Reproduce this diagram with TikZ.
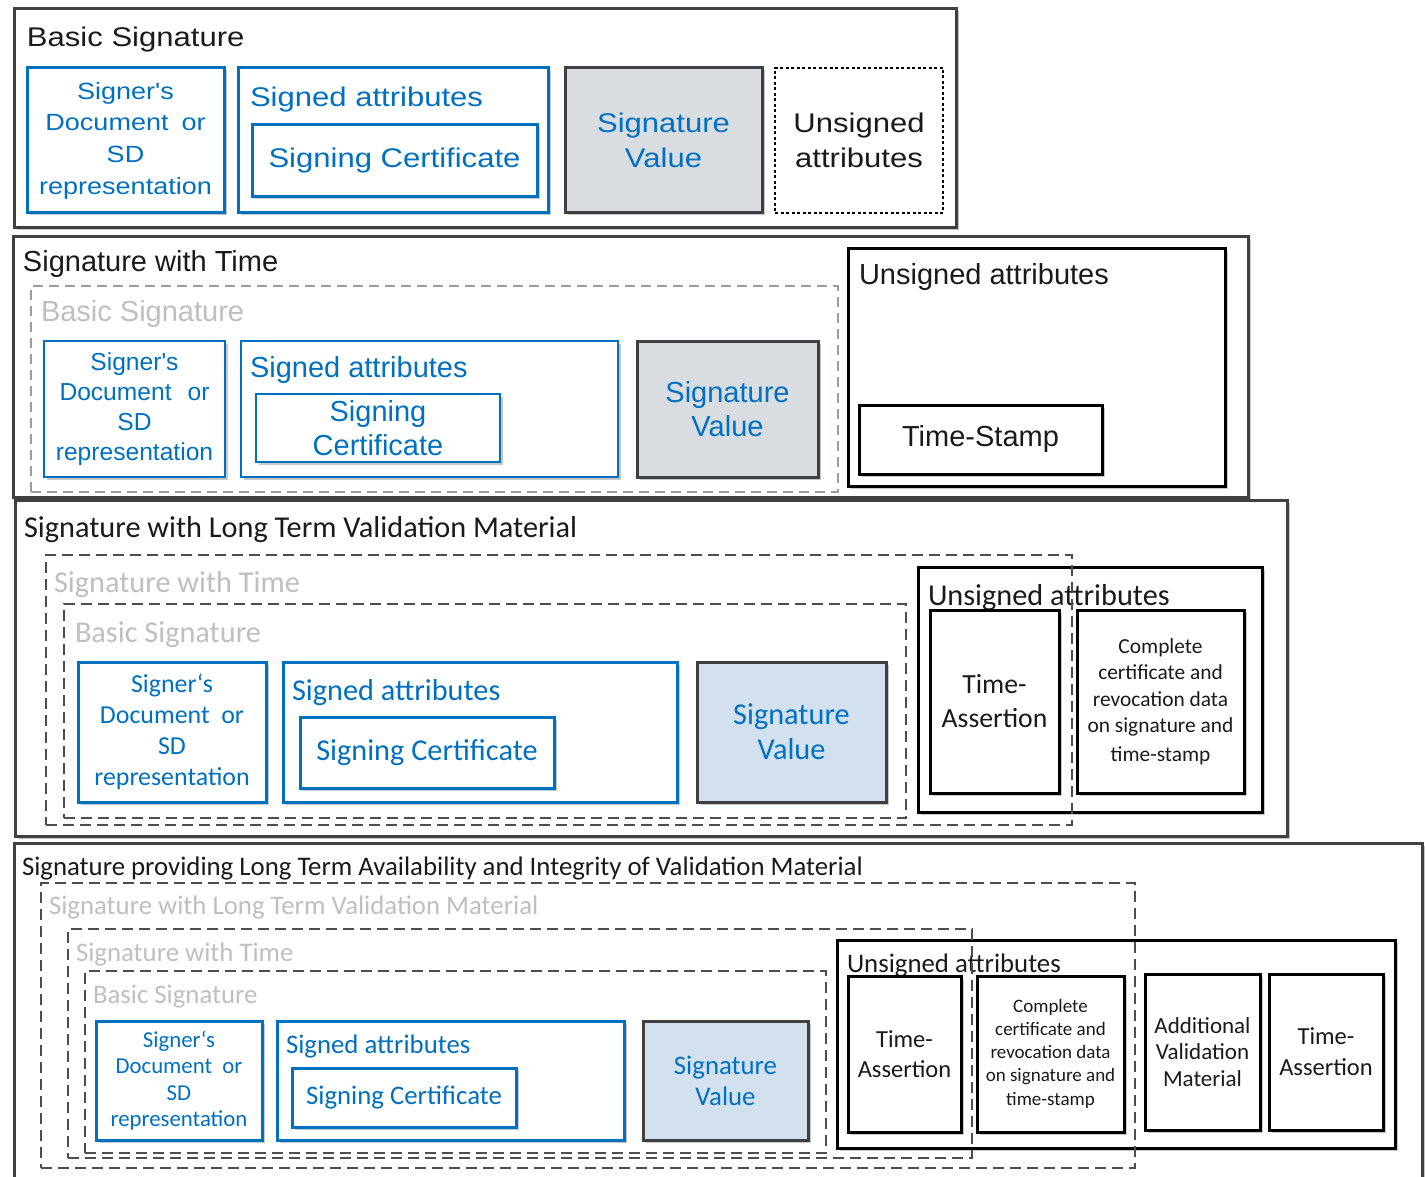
\documentclass[tikz,border=0pt]{standalone}
\usepackage{fontspec}
\usetikzlibrary{shadows}
\newfontfamily\fa[FakeStretch=1.15]{Liberation Sans}
\newfontfamily\fb{Liberation Sans}
\newfontfamily\fc{Carlito}
\newcommand\FA[2]{\fa\fontsize{#1}{#2}\selectfont}
\newcommand\FB[2]{\fb\fontsize{#1}{#2}\selectfont}
\newcommand\FC[2]{\fc\fontsize{#1}{#2}\selectfont}
\definecolor{dgray}{HTML}{404040}
\definecolor{mblue}{HTML}{0070C0}
\definecolor{sgray}{HTML}{D9DCE0}
\definecolor{sblue}{HTML}{D3E0ED}
\definecolor{lgray}{HTML}{9C9C9C}
\definecolor{mgray}{HTML}{4D4D4D}
\definecolor{lbl}{HTML}{BFBFBF}
\definecolor{tblack}{HTML}{1A1A1A}
\tikzset{
  shad/.style={drop shadow={shadow xshift=2.5pt,shadow yshift=-2.5pt,opacity=.22,fill=black}},
  frame/.style={draw=dgray,line width=3pt,fill=white,shad},
  bluebox/.style={draw=mblue,line width=3pt,fill=white,shad,text=mblue,align=center},
  blackbox/.style={draw=black,line width=3pt,fill=white,shad,align=center,text=tblack},
  valbox/.style={draw=dgray,line width=3pt,shad,text=mblue,align=center},
  dotbox/.style={draw=black,line width=2.5pt,dash pattern=on 3pt off 2.5pt,fill=white,align=center,text=tblack},
  dashA/.style={draw=lgray,line width=2pt,dash pattern=on 10pt off 6pt},
  dashB/.style={draw=mgray,line width=1.5pt,dash pattern=on 11pt off 6pt},
  ttl/.style={anchor=base west,inner sep=0pt,outer sep=0pt,text=tblack},
  lab/.style={anchor=base west,inner sep=0pt,outer sep=0pt,text=lbl},
}
\newcommand\bx[7]{\node[#2,inner sep=0pt,outer sep=0pt,minimum width={#5-#3},minimum height={#6-#4}] (#1) at ({(#3+#5)/2},{(#4+#6)/2}) {#7};}
\begin{document}
\begin{tikzpicture}[x=1pt,y=-1pt]
\useasboundingbox (0,0) rectangle (1425,1177);
\fill[white] (0,0) rectangle (1425,1177);
\clip (0,0) rectangle (1425,1177);
% ---------- Section 1 ----------
\bx{s1}{frame}{14}{9}{956}{228}{}
\node[ttl,font=\FA{27}{32}] (s1t) at (27,47) {Basic Signature};
\bx{s1doc}{bluebox,font=\FA{23.5}{31.7}}{27}{68}{224}{213}{Signer's\\Document\hspace{.55em}or\\SD\\representation}
\bx{s1sa}{bluebox}{238}{68}{548}{213}{}
\node[ttl,font=\FA{27}{32},text=mblue] (s1sat) at (250,107) {Signed attributes};
\bx{s1sc}{bluebox,font=\FA{27}{32}}{252}{125}{537}{197}{Signing Certificate}
\bx{s1sv}{valbox,fill=sgray,font=\FA{27}{35}}{565}{68}{762}{213}{Signature\\Value}
\bx{s1ua}{dotbox,font=\FA{27}{35}}{775}{68}{943}{213}{Unsigned\\attributes}
% ---------- Section 2 ----------
\bx{s2}{frame}{13}{237}{1248}{497}{}
\node[ttl,font=\FB{29}{34}] (s2t) at (23,272) {Signature with Time};
\bx{s2ua}{blackbox}{848}{249}{1225}{486}{}
\node[ttl,font=\FB{29}{34}] (s2uat) at (859,284) {Unsigned attributes};
\bx{s2ts}{blackbox,font=\FB{29}{34}}{859}{405}{1102}{474}{Time-Stamp}
\bx{s2doc}{bluebox,line width=2.5pt,font=\FB{24.6}{30}}{44}{341}{225}{477}{Signer's\\Document\hspace{.65em}or\\SD\\representation}
\bx{s2sa}{bluebox,line width=2.5pt}{241}{341}{618}{477}{}
\node[ttl,font=\FB{29}{34},text=mblue] (s2sat) at (250,377) {Signed attributes};
\bx{s2sc}{bluebox,line width=2.5pt,font=\FB{29}{34}}{256}{394}{500}{462}{Signing\\Certificate}
\bx{s2sv}{valbox,fill=sgray,font=\FB{29}{34}}{637}{341}{818}{477}{Signature\\Value}
\bx{s2bs}{dashA}{31}{286}{838}{492}{}
\node[lab,font=\FB{29}{34}] (s2bst) at (41,321) {Basic Signature};
% ---------- Section 3 ----------
\bx{s3}{frame}{15}{500}{1287}{836}{}
\node[ttl,font=\FC{30.3}{35}] (s3t) at (24,537) {Signature with Long Term Validation Material};
\bx{s3ua}{blackbox}{918}{567}{1262}{812}{}
\node[ttl,font=\FC{30.3}{35}] (s3uat) at (928,605) {Unsigned attributes};
\bx{s3ta}{blackbox,font=\FC{27.7}{34}}{930}{610}{1059}{793}{Time-\\Assertion}
\bx{s3cc}{blackbox,font=\FC{21.4}{26.5}}{1077}{610}{1244}{793}{Complete\\certificate and\\revocation data\\on signature and\\[2pt]time-stamp}
\bx{s3doc}{bluebox,font=\FC{25.9}{31}}{78}{662}{266}{802}{Signer‘s\\Document\hspace{.45em}or\\SD\\representation}
\bx{s3sa}{bluebox}{283}{662}{677}{802}{}
\node[ttl,font=\FC{30.3}{35},text=mblue] (s3sat) at (292,700) {Signed attributes};
\bx{s3sc}{bluebox,font=\FC{30.3}{35}}{300}{717}{554}{788}{Signing Certificate}
\bx{s3sv}{valbox,fill=sblue,font=\FC{30.3}{35}}{697}{662}{886}{802}{Signature\\Value}
\bx{s3swt}{dashB}{46}{555}{1072}{825}{}
\node[lab,font=\FC{30.3}{35}] (s3swtt) at (54,592) {Signature with Time};
\bx{s3bs}{dashB}{64}{604}{906}{818}{}
\node[lab,font=\FC{30.3}{35}] (s3bst) at (75,642) {Basic Signature};
% ---------- Section 4 ----------
\bx{s4}{frame}{14}{843}{1422}{1195}{}
\node[ttl,font=\FC{26.8}{31}] (s4t) at (22,875) {Signature providing Long Term Availability and Integrity of Validation Material};
\bx{s4ua}{blackbox}{837}{940}{1395}{1148}{}
\node[ttl,font=\FC{26.8}{31}] (s4uat) at (847,972) {Unsigned attributes};
\bx{s4ta}{blackbox,font=\FC{24.5}{30}}{848}{976}{961}{1132}{Time-\\Assertion}
\bx{s4cc}{blackbox,font=\FC{19}{23}}{977}{976}{1124}{1132}{Complete\\certificate and\\revocation data\\on signature and\\[1pt]time-stamp}
\bx{s4av}{blackbox,font=\FC{23}{26.5}}{1145}{974}{1260}{1130}{Additional\\Validation\\Material}
\bx{s4ta2}{blackbox,font=\FC{24.5}{31}}{1269}{974}{1383}{1130}{Time-\\Assertion}
\bx{s4doc}{bluebox,font=\FC{22.8}{26.3}}{96}{1021}{262}{1140}{Signer‘s\\Document\hspace{.45em}or\\SD\\representation}
\bx{s4sa}{bluebox}{277}{1021}{624}{1140}{}
\node[ttl,font=\FC{26.8}{31},text=mblue] (s4sat) at (286,1053) {Signed attributes};
\bx{s4sc}{bluebox,font=\FC{26.8}{31}}{292}{1068}{516}{1127}{Signing Certificate}
\bx{s4sv}{valbox,fill=sblue,font=\FC{26.8}{31}}{643}{1021}{808}{1140}{Signature\\Value}
\bx{s4ltv}{dashB}{41}{883}{1135}{1168}{}
\node[lab,font=\FC{26.8}{31}] (s4ltvt) at (49,914) {Signature with Long Term Validation Material};
\bx{s4swt}{dashB}{68}{929}{972}{1158}{}
\node[lab,font=\FC{26.8}{31}] (s4swtt) at (76,961) {Signature with Time};
\bx{s4bs}{dashB}{85}{971}{826}{1153}{}
\node[lab,font=\FC{26.8}{31}] (s4bst) at (93,1003) {Basic Signature};
\end{tikzpicture}
\end{document}
